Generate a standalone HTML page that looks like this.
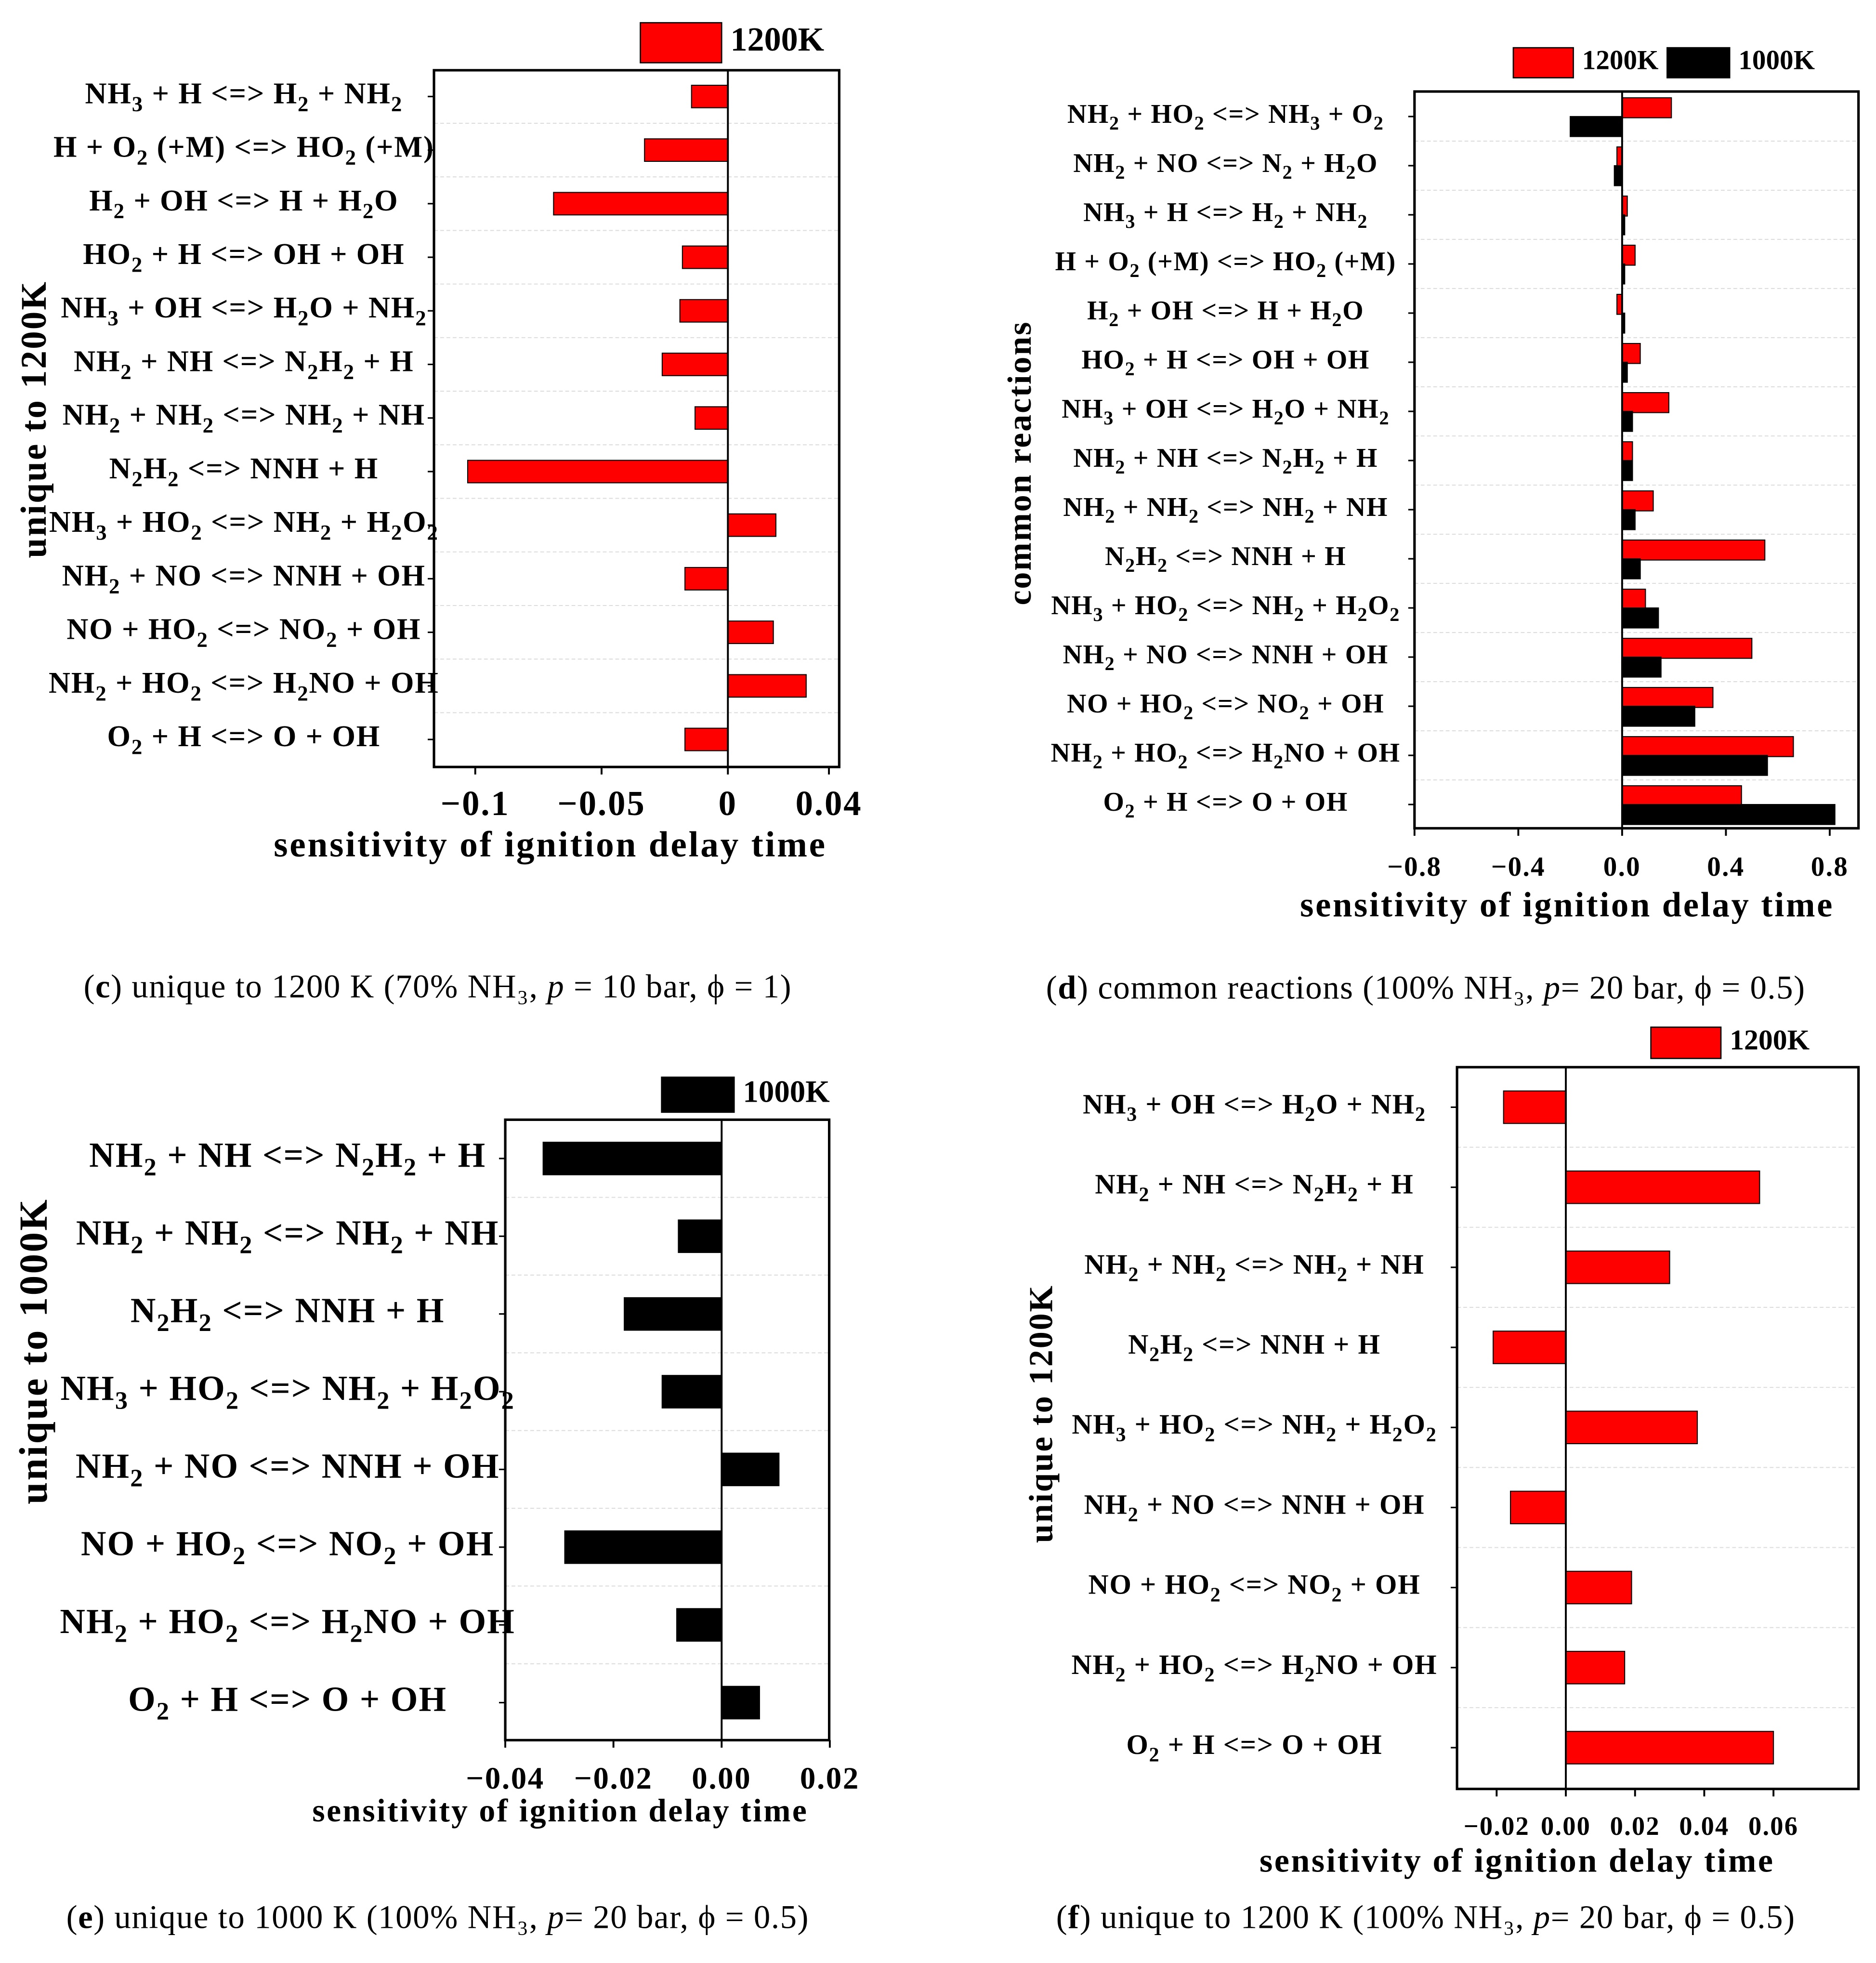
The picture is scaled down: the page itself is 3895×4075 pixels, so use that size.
<!DOCTYPE html>
<html><head><meta charset="utf-8"><style>
html,body{margin:0;padding:0;background:#fff}
svg{display:block}
text{font-family:"Liberation Serif",serif}
</style></head><body>
<svg id="s" width="3895" height="4075" viewBox="0 0 1500 1569" xmlns="http://www.w3.org/2000/svg"></svg>
<script>
// ---- Panel c data ----
const cCats = ["NH_3 + H <=> H_2 + NH_2","H + O_2 (+M) <=> HO_2 (+M)","H_2 + OH <=> H + H_2O","HO_2 + H <=> OH + OH","NH_3 + OH <=> H_2O + NH_2","NH_2 + NH <=> N_2H_2 + H","NH_2 + NH_2 <=> NH_2 + NH","N_2H_2 <=> NNH + H","NH_3 + HO_2 <=> NH_2 + H_2O_2","NH_2 + NO <=> NNH + OH","NO + HO_2 <=> NO_2 + OH","NH_2 + HO_2 <=> H_2NO + OH","O_2 + H <=> O + OH"];
const cRed = [-0.0144,-0.033,-0.069,-0.018,-0.019,-0.026,-0.013,-0.103,0.019,-0.017,0.018,0.031,-0.017];
const cTicks = [-0.1,-0.05,0,0.04];
const cTickLabels = ["\u22120.1","\u22120.05","0","0.04"];
// ---- Panel d data ----
const dCats = ["NH_2 + HO_2 <=> NH_3 + O_2","NH_2 + NO <=> N_2 + H_2O","NH_3 + H <=> H_2 + NH_2","H + O_2 (+M) <=> HO_2 (+M)","H_2 + OH <=> H + H_2O","HO_2 + H <=> OH + OH","NH_3 + OH <=> H_2O + NH_2","NH_2 + NH <=> N_2H_2 + H","NH_2 + NH_2 <=> NH_2 + NH","N_2H_2 <=> NNH + H","NH_3 + HO_2 <=> NH_2 + H_2O_2","NH_2 + NO <=> NNH + OH","NO + HO_2 <=> NO_2 + OH","NH_2 + HO_2 <=> H_2NO + OH","O_2 + H <=> O + OH"];
const dRed = [0.19,-0.02,0.02,0.05,-0.02,0.07,0.18,0.04,0.12,0.55,0.09,0.5,0.35,0.66,0.46];
const dBlack = [-0.2,-0.03,0.01,0.01,0.01,0.02,0.04,0.04,0.05,0.07,0.14,0.15,0.28,0.56,0.82];
const dTicks = [-0.8,-0.4,0,0.4,0.8];
const dTickLabels = ["\u22120.8","\u22120.4","0.0","0.4","0.8"];
// ---- Panel e data ----
const eCats = ["NH_2 + NH <=> N_2H_2 + H","NH_2 + NH_2 <=> NH_2 + NH","N_2H_2 <=> NNH + H","NH_3 + HO_2 <=> NH_2 + H_2O_2","NH_2 + NO <=> NNH + OH","NO + HO_2 <=> NO_2 + OH","NH_2 + HO_2 <=> H_2NO + OH","O_2 + H <=> O + OH"];
const eBlack = [-0.033,-0.008,-0.018,-0.011,0.0106,-0.029,-0.0083,0.007];
const eTicks = [-0.04,-0.02,0,0.02];
const eTickLabels = ["\u22120.04","\u22120.02","0.00","0.02"];
// ---- Panel f data ----
const fCats = ["NH_3 + OH <=> H_2O + NH_2","NH_2 + NH <=> N_2H_2 + H","NH_2 + NH_2 <=> NH_2 + NH","N_2H_2 <=> NNH + H","NH_3 + HO_2 <=> NH_2 + H_2O_2","NH_2 + NO <=> NNH + OH","NO + HO_2 <=> NO_2 + OH","NH_2 + HO_2 <=> H_2NO + OH","O_2 + H <=> O + OH"];
const fRed = [-0.018,0.056,0.030,-0.021,0.038,-0.016,0.019,0.017,0.060];
const fTicks = [-0.02,0,0.02,0.04,0.06];
const fTickLabels = ["\u22120.02","0.00","0.02","0.04","0.06"];

const NS="http://www.w3.org/2000/svg";
const svg=document.getElementById('s');
function el(tag,attrs,parent){const e=document.createElementNS(NS,tag);for(const k in attrs)e.setAttribute(k,attrs[k]);(parent||svg).appendChild(e);return e;}
function richText(str,x,y,size,anchor,parent){
  const t=el('text',{x:x,y:y,'font-size':size,'font-weight':'bold','text-anchor':anchor,'dominant-baseline':'middle',fill:'#000','letter-spacing':size*0.03},parent);
  const parts=str.split(/(_\d)/);
  parts.forEach(p=>{ if(!p)return;
    if(p[0]==='_'){const s=el('tspan',{'font-size':size*0.72,dy:size*0.32},t);s.textContent=p[1];const b=el('tspan',{dy:-size*0.32},t);b.textContent='\u200b';}
    else{const s=el('tspan',{},t);s.textContent=p;}
  });
  return t;
}
function panel(o){
  const g=el('g',{});
  
  
  const xs=v=>o.x0+v*o.k;
  const n=o.cats.length;
  const step=(o.yLast-o.yFirst)/(n-1);
  for(let i=0;i<n-1;i++){
    const gy=o.yFirst+step*(i+0.5);
    const l=el('line',{x1:o.bx1,x2:o.bx2,y1:gy,y2:gy,stroke:'#ddd','stroke-width':0.8,'stroke-dasharray':'3,2'},g);
    
    
  }
  o.series.forEach((s,si)=>{
    s.vals.forEach((v,i)=>{
      const cy=o.yFirst+step*i+(s.off||0);
      const x1=Math.min(xs(0),xs(v)),w=Math.abs(xs(v)-xs(0));
      const r=el('rect',{x:x1,y:cy-o.bh/2,width:w,height:o.bh,fill:s.color,stroke:'#000','stroke-width':0.8},g);
      
      
    });
  });
  o.cats.forEach((c,i)=>{
    const t=richText(c,o.labX,o.yFirst+step*i,o.labSize,'middle',g);
    
    
    el('line',{x1:o.bx1,x2:o.bx1-5,y1:o.yFirst+step*i,y2:o.yFirst+step*i,stroke:'#000','stroke-width':1.2},g);
  });
  el('line',{x1:xs(0),x2:xs(0),y1:o.by1,y2:o.by2,stroke:'#000','stroke-width':1.5},g);
  const b=el('rect',{x:o.bx1,y:o.by1,width:o.bx2-o.bx1,height:o.by2-o.by1,fill:'none',stroke:'#000','stroke-width':2},g);
  
  
  o.ticks.forEach((tv,i)=>{
    el('line',{x1:xs(tv),x2:xs(tv),y1:o.by2,y2:o.by2+6,stroke:'#000','stroke-width':1.5},g);
    const t=el('text',{x:xs(tv),y:o.tickY,'font-size':o.tickSize,'font-weight':'bold','text-anchor':'middle','dominant-baseline':'middle','letter-spacing':o.tickSize*0.04},g);
    t.textContent=o.tickLabels[i];
    
    
  });
  const xt=el('text',{x:o.xtX,y:o.xtY,'font-size':o.xtSize,'font-weight':'bold','text-anchor':'middle','dominant-baseline':'middle','letter-spacing':o.xtSize*0.05},g);
  xt.textContent='sensitivity of ignition delay time';
  
  
  const yt=el('text',{x:0,y:0,'font-size':o.ytSize,'font-weight':'bold','text-anchor':'middle','dominant-baseline':'middle','letter-spacing':o.ytSize*0.04,transform:`translate(${o.ytX},${o.ytY}) rotate(-90)`},g);
  yt.textContent=o.ytitle;
  
  
  o.legend.forEach(L=>{
    const r=el('rect',{x:L.x,y:L.y,width:L.w,height:L.h,fill:L.color,stroke:'#000','stroke-width':1},g);
    
    
    const t=el('text',{x:L.x+L.w+7,y:L.y+L.h/2,'font-size':L.size,'font-weight':'bold','dominant-baseline':'middle'},g);
    t.textContent=L.text;
    
    
  });
  const cap=el('text',{x:o.capX,y:o.capY,'font-size':26.5,'text-anchor':'middle','dominant-baseline':'middle','letter-spacing':0.6},g);
  
  
  o.caption.forEach(p=>{const s=el('tspan',p.a||{},cap);s.textContent=p.t;});
}
const B={'font-weight':'bold'},I={'font-style':'italic'};
panel({name:'panel-c',cats:cCats,series:[{key:'1200k',vals:cRed,color:'#ff0000'}],x0:582,k:2020,
  bx1:347,bx2:671,by1:56,by2:613,yFirst:77,yLast:591,bh:18,labX:195,labSize:24,
  ticks:cTicks,tickLabels:cTickLabels,tickY:645,tickSize:28,xtX:440,xtY:678,xtSize:29,
  ytitle:'unique to 1200K',ytX:30,ytY:335,ytSize:29,
  legend:[{x:512,y:18,w:65,h:32,color:'#ff0000',text:'1200K',size:27}],
  capX:350,capY:791,caption:[{t:'('},{t:'c',a:B},{t:') unique to 1200 K (70% NH\u2083, '},{t:'p',a:I},{t:' = 10 bar, \u03d5 = 1)'}]});
panel({name:'panel-d',cats:dCats,series:[{key:'1200k',vals:dRed,color:'#ff0000',off:-7},{key:'1000k',vals:dBlack,color:'#000',off:8}],x0:1297,k:207.5,
  bx1:1131,bx2:1486,by1:73,by2:662,yFirst:93,yLast:643,bh:16,labX:980,labSize:21.5,
  ticks:dTicks,tickLabels:dTickLabels,tickY:695,tickSize:22,xtX:1253,xtY:726,xtSize:28,
  ytitle:'common reactions',ytX:818,ytY:370,ytSize:27,
  legend:[{x:1210,y:38,w:48,h:24,color:'#ff0000',text:'1200K',size:22},{x:1333,y:38,w:50,h:24,color:'#000',text:'1000K',size:22}],
  capX:1140,capY:792,caption:[{t:'('},{t:'d',a:B},{t:') common reactions (100% NH\u2083, '},{t:'p',a:I},{t:'= 20 bar, \u03d5 = 0.5)'}]});
panel({name:'panel-e',cats:eCats,series:[{key:'1000k',vals:eBlack,color:'#000'}],x0:577,k:4325,
  bx1:404,bx2:663,by1:895,by2:1391,yFirst:926,yLast:1361,bh:26,labX:230,labSize:28,
  ticks:eTicks,tickLabels:eTickLabels,tickY:1424,tickSize:25,xtX:448,xtY:1450,xtSize:26,
  ytitle:'unique to 1000K',ytX:30,ytY:1080,ytSize:32,
  legend:[{x:529,y:861,w:58,h:28,color:'#000',text:'1000K',size:25}],
  capX:350,capY:1535,caption:[{t:'('},{t:'e',a:B},{t:') unique to 1000 K (100% NH\u2083, '},{t:'p',a:I},{t:'= 20 bar, \u03d5 = 0.5)'}]});
panel({name:'panel-f',cats:fCats,series:[{key:'1200k',vals:fRed,color:'#ff0000'}],x0:1252,k:2767,
  bx1:1165,bx2:1486,by1:853,by2:1430,yFirst:885,yLast:1397,bh:26,labX:1003,labSize:22.5,
  ticks:fTicks,tickLabels:fTickLabels,tickY:1462,tickSize:21,xtX:1213,xtY:1490,xtSize:27,
  ytitle:'unique to 1200K',ytX:835,ytY:1130,ytSize:27,
  legend:[{x:1320,y:821,w:56,h:25,color:'#ff0000',text:'1200K',size:23}],
  capX:1140,capY:1535,caption:[{t:'('},{t:'f',a:B},{t:') unique to 1200 K (100% NH\u2083, '},{t:'p',a:I},{t:'= 20 bar, \u03d5 = 0.5)'}]});
</script>
</body></html>
